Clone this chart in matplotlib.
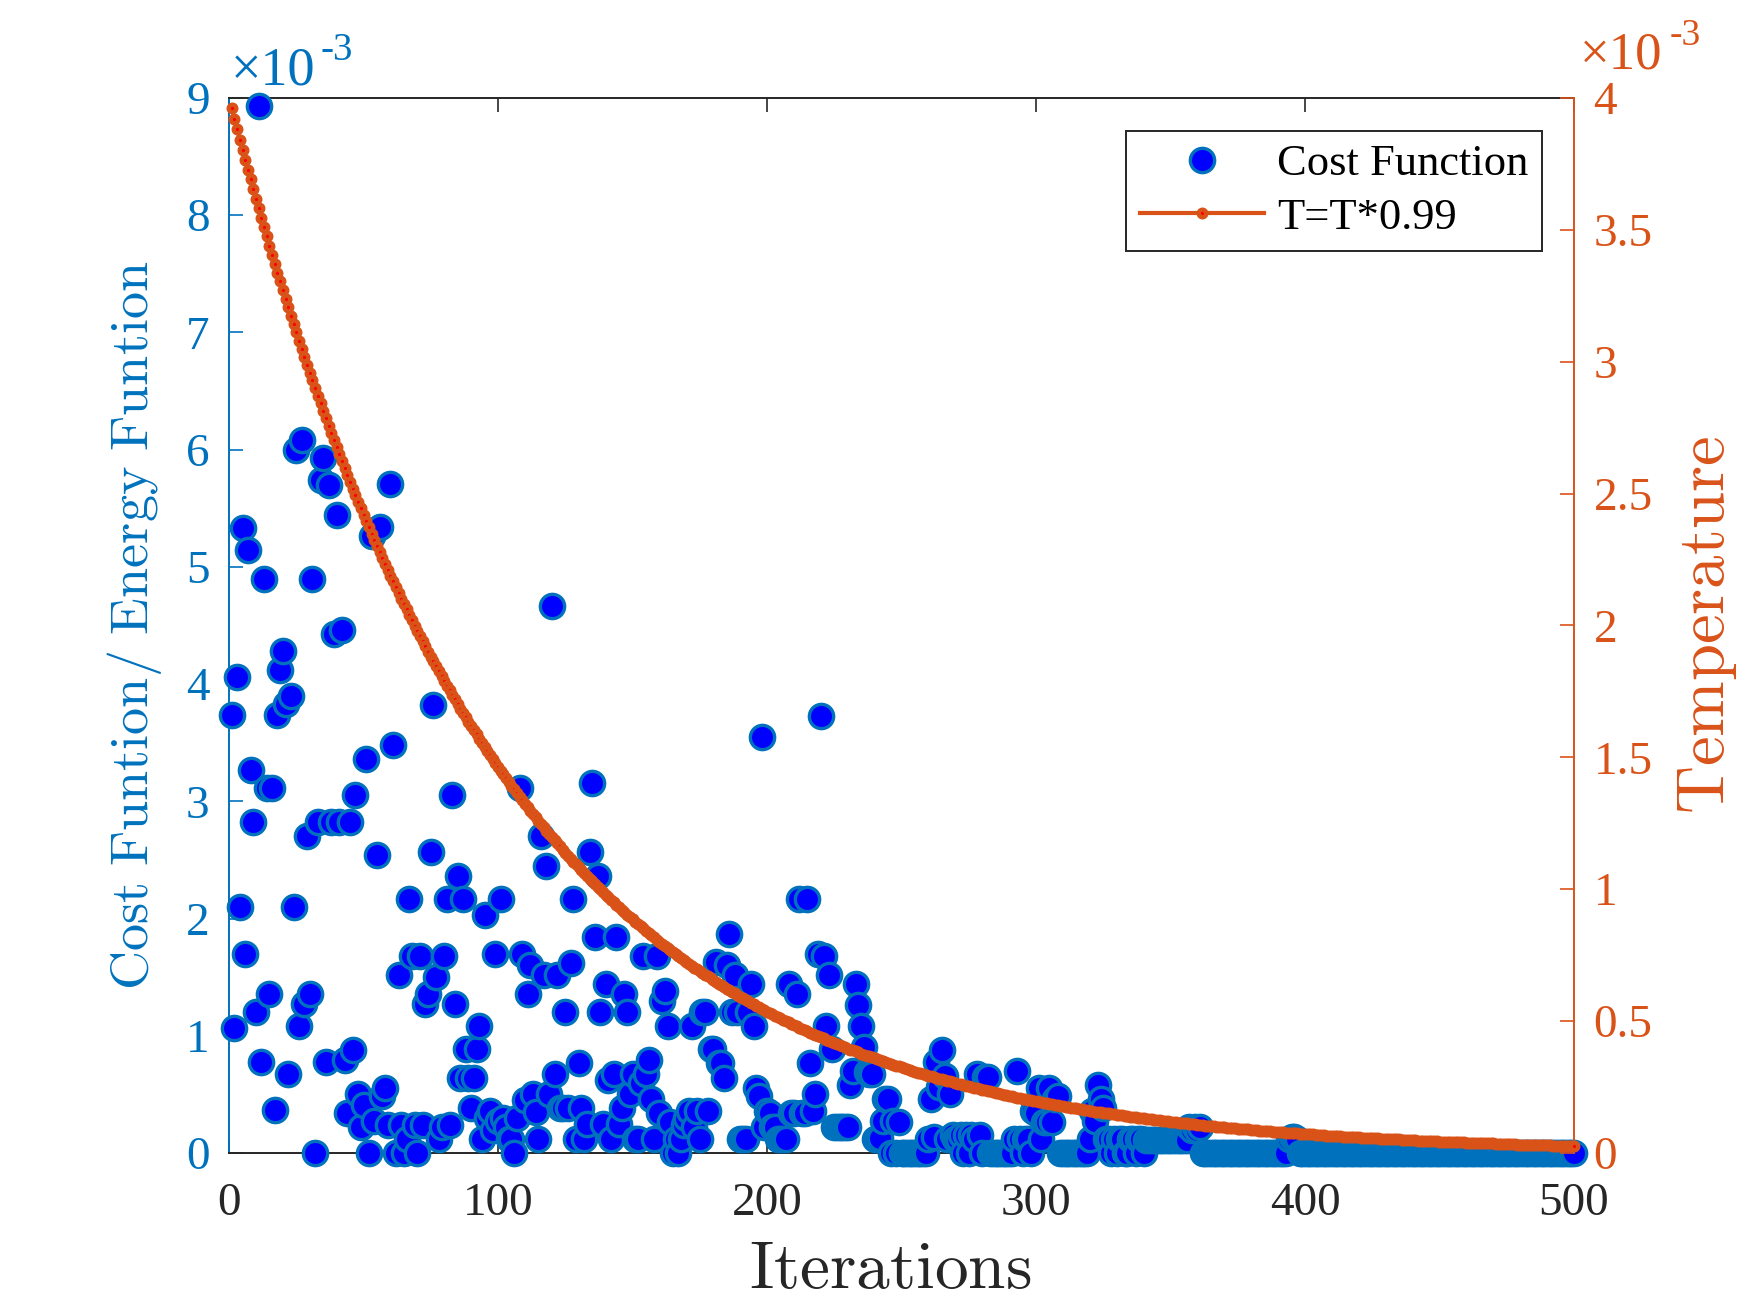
import numpy as np
import matplotlib.pyplot as plt
from matplotlib.lines import Line2D

# cost value at every iteration (x1e-3)
cost = [
    3.74, 1.07, 4.06, 2.10, 5.33, 1.70, 5.14, 3.27, 2.82, 1.20,
    8.93, 0.78, 4.90, 3.11, 1.36, 3.11, 0.37, 3.74, 4.12, 4.28,
    3.83, 0.67, 3.90, 2.10, 6.00, 1.08, 6.08, 1.27, 2.70, 1.36,
    4.90, 0.00, 2.82, 5.74, 5.93, 0.78, 5.70, 2.82, 4.43, 5.44,
    2.82, 4.46, 0.79, 0.34, 2.82, 0.88, 3.05, 0.50, 0.22, 0.41,
    3.36, 0.00, 5.26, 0.27, 2.54, 5.34, 0.49, 0.55, 0.24, 5.71,
    3.48, 0.00, 1.52, 0.24, 0.00, 0.12, 2.17, 1.68, 0.24, 0.00,
    1.68, 0.24, 1.27, 1.36, 2.57, 3.82, 1.50, 0.12, 0.22, 1.68,
    2.17, 0.24, 3.05, 1.27, 2.36, 0.64, 2.17, 0.89, 0.64, 0.38,
    0.64, 0.89, 1.08, 0.12, 2.03, 0.30, 0.36, 0.20, 1.70, 0.27,
    2.17, 0.30, 0.22, 0.12, 0.12, 0.00, 0.30, 3.11, 1.70, 0.45,
    1.36, 1.60, 0.50, 0.35, 0.12, 2.70, 1.52, 2.45, 0.50, 4.67,
    0.67, 1.52, 0.38, 0.38, 1.20, 0.38, 1.62, 2.17, 0.12, 0.77,
    0.38, 0.12, 0.25, 2.57, 3.16, 1.84, 2.36, 1.20, 0.25, 1.44,
    0.62, 0.12, 0.67, 1.84, 0.25, 0.38, 1.36, 1.20, 0.50, 0.67,
    0.12, 0.12, 0.60, 1.68, 0.67, 0.79, 0.46, 0.12, 1.68, 0.34,
    1.30, 1.38, 1.08, 0.26, 0.00, 0.12, 0.00, 0.12, 0.24, 0.30,
    0.36, 1.08, 0.22, 0.36, 0.12, 1.20, 1.20, 0.36, 0.89, 0.89,
    1.63, 0.77, 0.77, 0.64, 1.60, 1.87, 1.20, 1.52, 1.20, 0.12,
    0.12, 0.12, 1.20, 1.44, 1.08, 0.55, 0.49, 3.55, 0.22, 0.36,
    0.34, 0.22, 0.22, 0.12, 0.12, 0.12, 0.12, 1.44, 0.34, 0.34,
    1.36, 2.17, 0.34, 0.34, 2.17, 0.77, 0.36, 0.50, 1.70, 3.73,
    1.68, 1.08, 1.52, 0.89, 0.22, 0.22, 0.22, 0.22, 0.22, 0.22,
    0.58, 0.70, 1.44, 1.26, 1.08, 0.90, 0.69, 0.67, 0.67, 0.12,
    0.12, 0.13, 0.27, 0.46, 0.46, 0.00, 0.27, 0.00, 0.26, 0.00,
    0.00, 0.00, 0.00, 0.00, 0.00, 0.00, 0.00, 0.00, 0.00, 0.12,
    0.46, 0.14, 0.78, 0.56, 0.88, 0.66, 0.12, 0.50, 0.15, 0.12,
    0.12, 0.15, 0.00, 0.15, 0.00, 0.15, 0.12, 0.67, 0.15, 0.00,
    0.65, 0.65, 0.00, 0.00, 0.00, 0.00, 0.00, 0.00, 0.00, 0.00,
    0.00, 0.12, 0.70, 0.12, 0.00, 0.12, 0.12, 0.00, 0.36, 0.34,
    0.55, 0.12, 0.26, 0.26, 0.55, 0.26, 0.46, 0.49, 0.00, 0.00,
    0.00, 0.00, 0.00, 0.00, 0.00, 0.00, 0.00, 0.00, 0.00, 0.12,
    0.36, 0.27, 0.58, 0.46, 0.38, 0.12, 0.12, 0.00, 0.12, 0.00,
    0.12, 0.12, 0.00, 0.00, 0.12, 0.12, 0.00, 0.12, 0.12, 0.00,
    0.11, 0.11, 0.11, 0.11, 0.11, 0.11, 0.11, 0.11, 0.11, 0.11,
    0.11, 0.11, 0.11, 0.11, 0.11, 0.11, 0.22, 0.20, 0.22, 0.20,
    0.22, 0.00, 0.00, 0.00, 0.00, 0.00, 0.00, 0.00, 0.00, 0.00,
    0.00, 0.00, 0.00, 0.00, 0.00, 0.00, 0.00, 0.00, 0.00, 0.00,
    0.00, 0.00, 0.00, 0.00, 0.00, 0.00, 0.00, 0.00, 0.00, 0.00,
    0.00, 0.00, 0.00, 0.12, 0.14, 0.14, 0.12, 0.00, 0.00, 0.00,
    0.00, 0.00, 0.00, 0.00, 0.00, 0.00, 0.00, 0.00, 0.00, 0.00,
    0.00, 0.00, 0.00, 0.00, 0.00, 0.00, 0.00, 0.00, 0.00, 0.00,
    0.00, 0.00, 0.00, 0.00, 0.00, 0.00, 0.00, 0.00, 0.00, 0.00,
    0.00, 0.00, 0.00, 0.00, 0.00, 0.00, 0.00, 0.00, 0.00, 0.00,
    0.00, 0.00, 0.00, 0.00, 0.00, 0.00, 0.00, 0.00, 0.00, 0.00,
    0.00, 0.00, 0.00, 0.00, 0.00, 0.00, 0.00, 0.00, 0.00, 0.00,
    0.00, 0.00, 0.00, 0.00, 0.00, 0.00, 0.00, 0.00, 0.00, 0.00,
    0.00, 0.00, 0.00, 0.00, 0.00, 0.00, 0.00, 0.00, 0.00, 0.00,
    0.00, 0.00, 0.00, 0.00, 0.00, 0.00, 0.00, 0.00, 0.00, 0.00,
    0.00, 0.00, 0.00, 0.00, 0.00, 0.00, 0.00, 0.00, 0.00, 0.00,
]

# temperature at every iteration (x1e-3)
temp = [
    3.960, 3.920, 3.881, 3.842, 3.804, 3.766, 3.728, 3.691, 3.654, 3.618,
    3.581, 3.546, 3.510, 3.475, 3.440, 3.406, 3.372, 3.338, 3.305, 3.272,
    3.239, 3.207, 3.174, 3.143, 3.111, 3.080, 3.049, 3.019, 2.989, 2.959,
    2.929, 2.900, 2.871, 2.842, 2.814, 2.786, 2.758, 2.730, 2.703, 2.676,
    2.649, 2.623, 2.596, 2.570, 2.545, 2.519, 2.494, 2.469, 2.444, 2.420,
    2.396, 2.372, 2.348, 2.325, 2.301, 2.278, 2.256, 2.233, 2.211, 2.189,
    2.167, 2.145, 2.124, 2.102, 2.081, 2.061, 2.040, 2.020, 1.999, 1.979,
    1.960, 1.940, 1.921, 1.901, 1.882, 1.864, 1.845, 1.826, 1.808, 1.790,
    1.772, 1.754, 1.737, 1.720, 1.702, 1.685, 1.668, 1.652, 1.635, 1.619,
    1.603, 1.587, 1.571, 1.555, 1.540, 1.524, 1.509, 1.494, 1.479, 1.464,
    1.449, 1.435, 1.421, 1.406, 1.392, 1.378, 1.365, 1.351, 1.338, 1.324,
    1.311, 1.298, 1.285, 1.272, 1.259, 1.247, 1.234, 1.222, 1.210, 1.198,
    1.186, 1.174, 1.162, 1.150, 1.139, 1.127, 1.116, 1.105, 1.094, 1.083,
    1.072, 1.061, 1.051, 1.040, 1.030, 1.020, 1.009, 0.999, 0.989, 0.979,
    0.970, 0.960, 0.950, 0.941, 0.931, 0.922, 0.913, 0.904, 0.895, 0.886,
    0.877, 0.868, 0.859, 0.851, 0.842, 0.834, 0.826, 0.817, 0.809, 0.801,
    0.793, 0.785, 0.777, 0.770, 0.762, 0.754, 0.747, 0.739, 0.732, 0.725,
    0.717, 0.710, 0.703, 0.696, 0.689, 0.682, 0.675, 0.669, 0.662, 0.655,
    0.649, 0.642, 0.636, 0.629, 0.623, 0.617, 0.611, 0.605, 0.599, 0.593,
    0.587, 0.581, 0.575, 0.569, 0.564, 0.558, 0.552, 0.547, 0.541, 0.536,
    0.531, 0.525, 0.520, 0.515, 0.510, 0.505, 0.500, 0.495, 0.490, 0.485,
    0.480, 0.475, 0.470, 0.466, 0.461, 0.456, 0.452, 0.447, 0.443, 0.438,
    0.434, 0.430, 0.425, 0.421, 0.417, 0.413, 0.409, 0.404, 0.400, 0.396,
    0.392, 0.389, 0.385, 0.381, 0.377, 0.373, 0.369, 0.366, 0.362, 0.359,
    0.355, 0.351, 0.348, 0.344, 0.341, 0.338, 0.334, 0.331, 0.328, 0.324,
    0.321, 0.318, 0.315, 0.311, 0.308, 0.305, 0.302, 0.299, 0.296, 0.293,
    0.290, 0.287, 0.285, 0.282, 0.279, 0.276, 0.273, 0.271, 0.268, 0.265,
    0.263, 0.260, 0.257, 0.255, 0.252, 0.250, 0.247, 0.245, 0.242, 0.240,
    0.237, 0.235, 0.233, 0.230, 0.228, 0.226, 0.224, 0.221, 0.219, 0.217,
    0.215, 0.213, 0.210, 0.208, 0.206, 0.204, 0.202, 0.200, 0.198, 0.196,
    0.194, 0.192, 0.190, 0.188, 0.187, 0.185, 0.183, 0.181, 0.179, 0.177,
    0.176, 0.174, 0.172, 0.170, 0.169, 0.167, 0.165, 0.164, 0.162, 0.160,
    0.159, 0.157, 0.156, 0.154, 0.153, 0.151, 0.150, 0.148, 0.147, 0.145,
    0.144, 0.142, 0.141, 0.139, 0.138, 0.137, 0.135, 0.134, 0.133, 0.131,
    0.130, 0.129, 0.127, 0.126, 0.125, 0.124, 0.122, 0.121, 0.120, 0.119,
    0.117, 0.116, 0.115, 0.114, 0.113, 0.112, 0.111, 0.110, 0.108, 0.107,
    0.106, 0.105, 0.104, 0.103, 0.102, 0.101, 0.100, 0.099, 0.098, 0.097,
    0.096, 0.095, 0.094, 0.093, 0.092, 0.091, 0.090, 0.090, 0.089, 0.088,
    0.087, 0.086, 0.085, 0.084, 0.083, 0.083, 0.082, 0.081, 0.080, 0.079,
    0.079, 0.078, 0.077, 0.076, 0.076, 0.075, 0.074, 0.073, 0.073, 0.072,
    0.071, 0.070, 0.070, 0.069, 0.068, 0.068, 0.067, 0.066, 0.066, 0.065,
    0.064, 0.064, 0.063, 0.062, 0.062, 0.061, 0.061, 0.060, 0.059, 0.059,
    0.058, 0.058, 0.057, 0.056, 0.056, 0.055, 0.055, 0.054, 0.054, 0.053,
    0.053, 0.052, 0.052, 0.051, 0.051, 0.050, 0.050, 0.049, 0.049, 0.048,
    0.048, 0.047, 0.047, 0.046, 0.046, 0.045, 0.045, 0.044, 0.044, 0.043,
    0.043, 0.043, 0.042, 0.042, 0.041, 0.041, 0.040, 0.040, 0.040, 0.039,
    0.039, 0.039, 0.038, 0.038, 0.037, 0.037, 0.037, 0.036, 0.036, 0.036,
    0.035, 0.035, 0.034, 0.034, 0.034, 0.033, 0.033, 0.033, 0.032, 0.032,
    0.032, 0.031, 0.031, 0.031, 0.031, 0.030, 0.030, 0.030, 0.029, 0.029,
    0.029, 0.028, 0.028, 0.028, 0.028, 0.027, 0.027, 0.027, 0.027, 0.026,
]

iters = np.arange(1, len(cost) + 1)
x_ticks = [0, 100, 200, 300, 400, 500]
left_ticks = [0, 1, 2, 3, 4, 5, 6, 7, 8, 9]
right_ticks = [0, 0.5, 1, 1.5, 2, 2.5, 3, 3.5, 4]
right_labels = ['0', '0.5', '1', '1.5', '2', '2.5', '3', '3.5', '4']

BLUE = '#0072BD'
ORANGE = '#D95319'
DARK = '#262626'
SERIF = 'Liberation Serif'

plt.rcParams['mathtext.fontset'] = 'cm'

fig = plt.figure(figsize=(17.5, 13.13), dpi=100)
ax = fig.add_axes([0.1309, 0.1219, 0.7685, 0.8035])
ax2 = ax.twinx()

ax.plot(iters, cost, 'o', ls='none', ms=17.5, mfc='#0000FF', mec=BLUE, mew=2.4,
        clip_on=False, zorder=3)
ax2.plot(iters, temp, '-o', color=ORANGE, lw=3, ms=5.5, mfc='#FF0000',
         mec=ORANGE, mew=3.1, clip_on=False, zorder=3)

ax.set_xlim(0, 500)
ax.set_ylim(0, 9)
ax2.set_ylim(0, 4)

ax.set_xticks(x_ticks)
ax.set_xticklabels([str(v) for v in x_ticks], fontfamily=SERIF, fontsize=34, color=DARK)
ax.set_yticks(left_ticks)
ax.set_yticklabels([str(v) for v in left_ticks], fontfamily=SERIF, fontsize=34, color=BLUE)
ax2.set_yticks(right_ticks)
ax2.set_yticklabels(right_labels, fontfamily=SERIF, fontsize=34, color=ORANGE)

ax.tick_params(axis='x', direction='in', length=10, width=1.2, color=DARK,
               top=True, pad=21)
ax.tick_params(axis='y', direction='in', length=10, width=1.2, color=BLUE,
               right=False, pad=14)
ax2.tick_params(axis='y', direction='in', length=10, width=1.2, color=ORANGE, pad=14)

for s in ['top', 'bottom']:
    ax.spines[s].set_color(DARK)
    ax.spines[s].set_linewidth(1.4)
ax.spines['left'].set_color(BLUE)
ax.spines['left'].set_linewidth(1.4)
ax.spines['right'].set_visible(False)
for s in ['top', 'bottom', 'left']:
    ax2.spines[s].set_visible(False)
ax2.spines['right'].set_color(ORANGE)
ax2.spines['right'].set_linewidth(1.4)

# exponent labels
fig.text(0.1316, 0.9353, '\u00d710', fontfamily=SERIF, fontsize=39, color=BLUE,
         ha='left', va='baseline')
fig.text(0.1830, 0.954, '-3', fontfamily=SERIF, fontsize=28, color=BLUE,
         ha='left', va='baseline')
fig.text(0.9030, 0.9475, '\u00d710', fontfamily=SERIF, fontsize=38, color=ORANGE,
         ha='left', va='baseline')
fig.text(0.9540, 0.9655, '-3', fontfamily=SERIF, fontsize=27, color=ORANGE,
         ha='left', va='baseline')

# axis labels
fig.text(0.5086, 0.019, r'$\mathrm{Iterations}$', fontsize=48.5, color=DARK,
         ha='center', va='baseline')
fig.text(0.0766, 0.524, r'$\mathrm{Cost\ Funtion/\ Energy\ Funtion}$', fontsize=39,
         color=BLUE, rotation=90, ha='center', va='center')
fig.text(0.9749, 0.524, r'$\mathrm{Temperature}$', fontsize=48, color=ORANGE,
         rotation=90, ha='center', va='center')

handles = [
    Line2D([], [], marker='o', ls='none', ms=17.5, mfc='#0000FF', mec=BLUE, mew=2.4),
    Line2D([], [], marker='o', color=ORANGE, lw=3, ms=5.5, mfc='#FF0000',
           mec=ORANGE, mew=3.1),
]
leg = ax2.legend(handles, ['Cost Function', 'T=T*0.99'], loc='upper right',
                 bbox_to_anchor=(0.8811, 0.9002), bbox_transform=fig.transFigure,
                 prop={'family': SERIF, 'size': 32}, frameon=True, fancybox=False,
                 framealpha=1, edgecolor=DARK, handlelength=2.8, handletextpad=0.3,
                 borderpad=0.3, labelspacing=0.3, borderaxespad=0)
leg.get_frame().set_linewidth(1.4)

fig.savefig('out.png', dpi=100, facecolor='white')
